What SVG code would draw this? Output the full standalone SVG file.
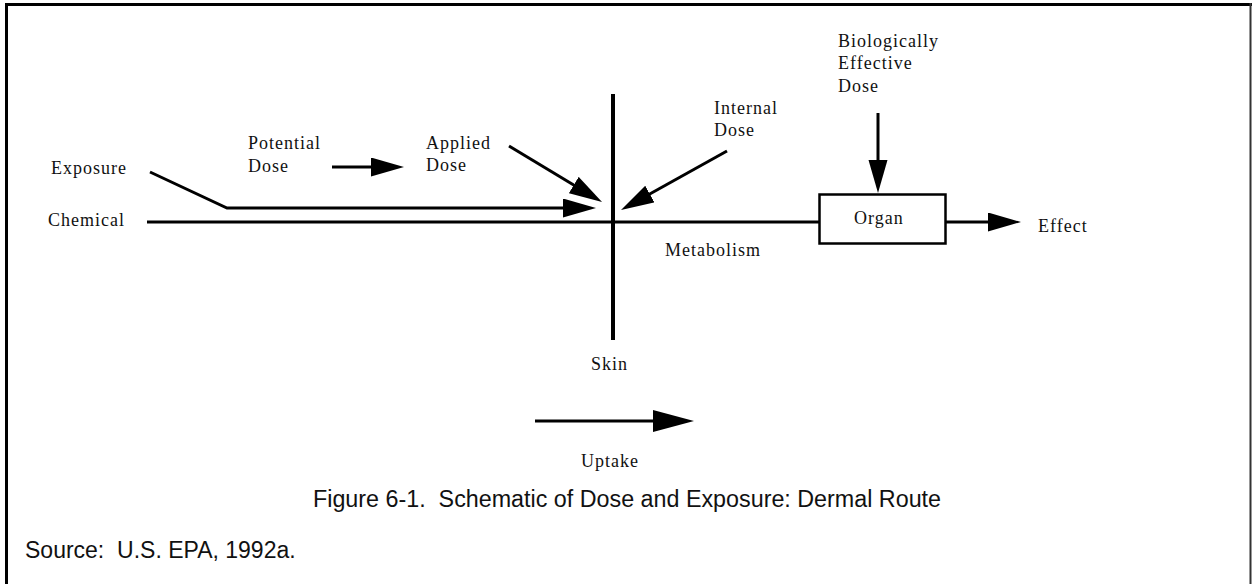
<svg xmlns="http://www.w3.org/2000/svg" width="1252" height="584" viewBox="0 0 1252 584">
<style>
.t{font-family:"Liberation Serif","Times New Roman",serif;font-size:18px;letter-spacing:1px;fill:#111}
.c{font-family:"Liberation Sans",Arial,sans-serif;font-size:23px;fill:#111;white-space:pre}
.ln{fill:none;stroke:#000;stroke-width:3}
</style>
<defs>
<marker id="ah" markerUnits="userSpaceOnUse" markerWidth="34" markerHeight="20" refX="13" refY="9.5" orient="auto" viewBox="0 0 34 20">
<path d="M0,0 L33,9.5 L0,19 z" fill="#000"/>
</marker>
<marker id="ahb" markerUnits="userSpaceOnUse" markerWidth="42" markerHeight="23" refX="21" refY="11" orient="auto" viewBox="0 0 42 23">
<path d="M0,0 L41,11 L0,22 z" fill="#000"/>
</marker>
</defs>
<rect width="1252" height="584" fill="#fff"/>
<g id="frame">
<line x1="5" y1="4.5" x2="1252" y2="4.5" stroke="#000" stroke-width="3"/>
<line x1="6.5" y1="3" x2="6.5" y2="584" stroke="#000" stroke-width="3"/>
<line x1="1250.5" y1="3" x2="1250.5" y2="584" stroke="#333" stroke-width="2"/>
</g>
<g id="skin">
<line x1="613" y1="94" x2="613" y2="340" stroke="#000" stroke-width="4"/>
<text class="t" x="591" y="370">Skin</text>
</g>
<g id="organ">
<rect x="819.5" y="194.5" width="126" height="49" fill="#fff" stroke="#000" stroke-width="2.5"/>
<text class="t" x="854" y="224">Organ</text>
</g>
<g id="labels">
<text class="t" x="51" y="174">Exposure</text>
<text class="t" x="48" y="226">Chemical</text>
<text class="t" x="248" y="149">Potential</text>
<text class="t" x="248" y="172">Dose</text>
<text class="t" x="426" y="149">Applied</text>
<text class="t" x="426" y="171">Dose</text>
<text class="t" x="714" y="114">Internal</text>
<text class="t" x="714" y="136">Dose</text>
<text class="t" x="838" y="47">Biologically</text>
<text class="t" x="838" y="69">Effective</text>
<text class="t" x="838" y="92">Dose</text>
<text class="t" x="1038" y="232">Effect</text>
<text class="t" x="665" y="256">Metabolism</text>
<text class="t" x="581" y="467">Uptake</text>
</g>
<g id="connectors">
<line class="ln" x1="147" y1="222" x2="819" y2="222"/>
<line class="ln" x1="332" y1="167" x2="384" y2="167" marker-end="url(#ah)"/>
<polyline class="ln" points="150,172 227,208 576,208" marker-end="url(#ah)"/>
<line class="ln" x1="509" y1="146" x2="584.9" y2="191.7" marker-end="url(#ah)"/>
<line class="ln" x1="727" y1="151" x2="638.5" y2="200.3" marker-end="url(#ah)"/>
<line class="ln" x1="878" y1="113" x2="878" y2="173" marker-end="url(#ah)"/>
<line class="ln" x1="945" y1="222" x2="1001" y2="222" marker-end="url(#ah)"/>
<line class="ln" x1="535" y1="421" x2="674" y2="421" stroke-width="4" marker-end="url(#ahb)"/>
</g>
<g id="caption">
<text class="c" x="313" y="507" style="font-size:23.3px" xml:space="preserve">Figure 6-1.  Schematic of Dose and Exposure: Dermal Route</text>
<text class="c" x="25" y="558" xml:space="preserve">Source:  U.S. EPA, 1992a.</text>
</g>
</svg>
